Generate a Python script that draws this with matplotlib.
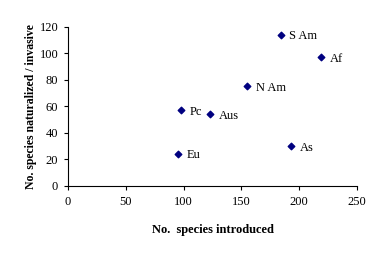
import matplotlib
matplotlib.use("Agg")
import matplotlib.pyplot as plt

# datos
regiones = ["S Am", "Af", "N Am", "Pc", "Aus", "Eu", "As"]
introducidas = [184, 219, 155, 98, 123, 95, 193]
naturalizadas = [114, 97, 75, 57, 54, 24, 30]

plt.rcParams["font.family"] = "Liberation Serif"
plt.rcParams["font.size"] = 9
plt.rcParams["xtick.direction"] = "out"
plt.rcParams["ytick.direction"] = "out"

fig = plt.figure(figsize=(3.84, 2.54), dpi=100)
ax = fig.add_axes([0.177, 0.268, 0.753, 0.627])

ax.scatter(introducidas, naturalizadas, marker="D", s=11, color="#000080", zorder=3)
for r, x, y in zip(regiones, introducidas, naturalizadas):
    ax.annotate(r, (x, y), xytext=(6, -1), textcoords="offset points",
                va="center", ha="left", fontsize=9)

ax.set_xlim(0, 250)
ax.set_ylim(0, 120)
ax.set_xticks(range(0, 251, 50))
ax.set_yticks(range(0, 121, 20))
ax.spines["top"].set_visible(False)
ax.spines["right"].set_visible(False)
ax.tick_params(length=3, width=0.8, pad=4)
ax.set_xlabel("No.  species introduced", fontweight="bold", labelpad=12)
ax.set_ylabel("No. species naturalized / invasive", fontweight="bold",
              fontsize=8.5, labelpad=2)

plt.savefig("out.png", dpi=100)
